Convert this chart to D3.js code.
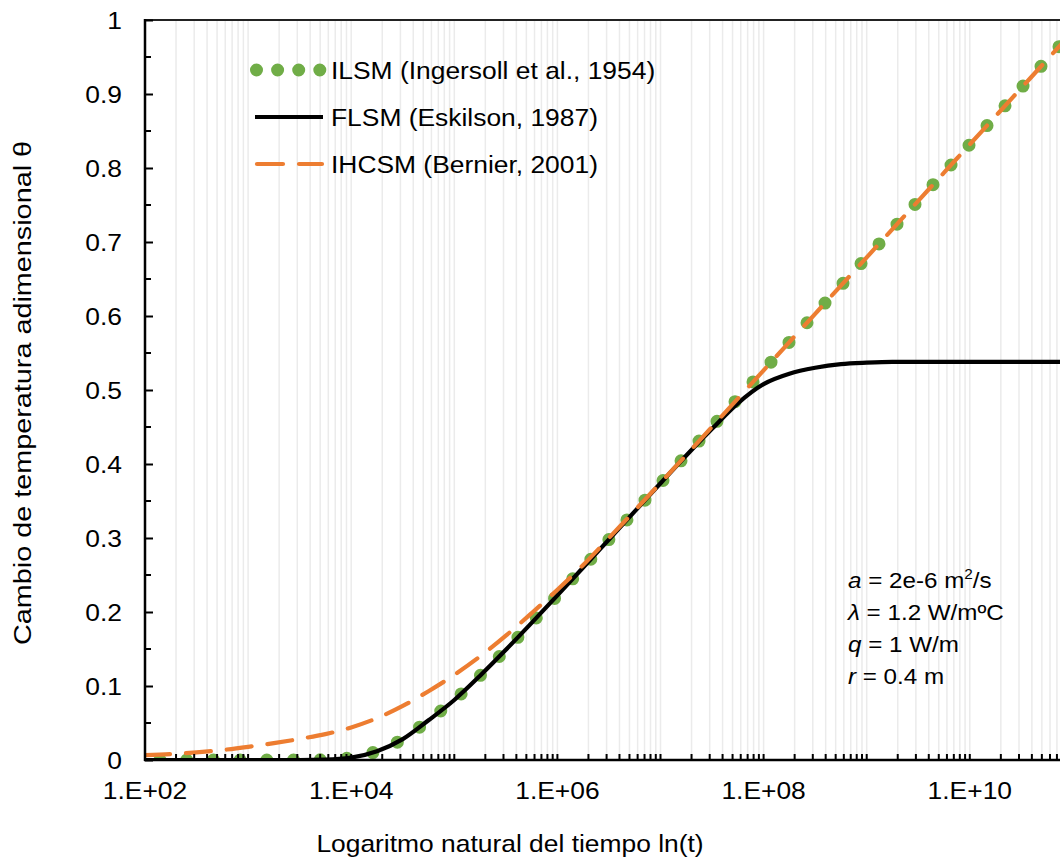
<!DOCTYPE html>
<html>
<head>
<meta charset="utf-8">
<script src="https://cdn.jsdelivr.net/npm/d3@7"></script>
<style>
  body { margin: 0; background: #fff; }
  svg { font-family: "Liberation Sans", Arial, sans-serif; display: block; }
</style>
</head>
<body>
<div id="chart"></div>
<script>
// data (log10 of time, theta values)
const logTime = [2.00, 2.25, 2.50, 2.75, 3.00, 3.25, 3.50, 3.75, 4.00, 4.25, 4.50, 4.75,
                 5.00, 5.25, 5.50, 5.75, 6.00, 6.25, 6.50, 6.75, 7.00, 7.25, 7.50, 7.75,
                 8.00, 8.25, 8.50, 8.75, 9.00, 9.25, 9.50, 9.75, 10.00, 10.25, 10.50, 10.75, 11.00];

const ilsm = [0, 0, 0, 0, 0, 0, 0, 0.0004, 0.0032, 0.0119, 0.0282, 0.0537,
              0.0811, 0.1139, 0.1489, 0.1853, 0.2225, 0.2601, 0.2980, 0.3359, 0.3740, 0.4121, 0.4503, 0.4884,
              0.5266, 0.5648, 0.6029, 0.6411, 0.6792, 0.7174, 0.7556, 0.7937, 0.8319, 0.8700, 0.9082, 0.9464, 0.9845];

const flsm = [0, 0, 0, 0, 0, 0, 0, 0.0004, 0.0032, 0.0119, 0.0282, 0.0537,
              0.0811, 0.1139, 0.1489, 0.1853, 0.2225, 0.2601, 0.2980, 0.3359, 0.3740, 0.4115, 0.4475, 0.4820,
              0.5080, 0.5220, 0.5300, 0.5350, 0.5370, 0.5380, 0.5380, 0.5380, 0.5380, 0.5380, 0.5380, 0.5380, 0.5380];

const ihcsm = [0.0065, 0.0080, 0.0103, 0.0135, 0.0178, 0.0228, 0.0285, 0.0350, 0.0440, 0.0565, 0.0730, 0.0930,
               0.1150, 0.1400, 0.1680, 0.1985, 0.2300, 0.2635, 0.3000, 0.3370, 0.3745, 0.4122, 0.4503, 0.4884,
               0.5266, 0.5648, 0.6029, 0.6411, 0.6792, 0.7174, 0.7556, 0.7937, 0.8319, 0.8700, 0.9082, 0.9464, 0.9845];

const seriesNames = ["ILSM (Ingersoll et al., 1954)", "FLSM (Eskilson, 1987)", "IHCSM (Bernier, 2001)"];
const xTickValues = [1e2, 1e4, 1e6, 1e8, 1e10];
const xTickLabels = ["1.E+02", "1.E+04", "1.E+06", "1.E+08", "1.E+10"];
const yTickValues = [0, 0.1, 0.2, 0.3, 0.4, 0.5, 0.6, 0.7, 0.8, 0.9, 1];
const yTickLabels = ["0", "0.1", "0.2", "0.3", "0.4", "0.5", "0.6", "0.7", "0.8", "0.9", "1"];
const paramLines = [
  ["a", " = 2e-6 m", "2", "/s"],
  ["λ", " = 1.2 W/mºC", "", ""],
  ["q", " = 1 W/m", "", ""],
  ["r", " = 0.4 m", "", ""]
];

const W = 1060, H = 862;
const margin = {top: 20, left: 145};
const plotW = 1031, plotH = 740;   // plot runs past the right edge of the window
const SX = 1.1;                     // reference text is a bit wide

const svg = d3.select("#chart").append("svg")
  .attr("width", W).attr("height", H);

const x = d3.scaleLog().domain([1e2, 1e12]).range([margin.left, margin.left + plotW]);
const y = d3.scaleLinear().domain([0, 1]).range([margin.top + plotH, margin.top]);

// text with a small horizontal stretch
function label(g, tx, ty, size, str, anchor) {
  return g.append("text")
    .attr("transform", `translate(${tx},${ty}) scale(${SX},1)`)
    .attr("font-size", size)
    .attr("text-anchor", anchor || "start")
    .text(str);
}

// minor log positions for grid and ticks
let minorVals = [];
for (let e = 2; e < 12; e++) for (let k = 1; k <= 9; k++) minorVals.push(k * Math.pow(10, e));

svg.append("g")
  .selectAll("line")
  .data(minorVals.filter(v => v > 1e2))
  .enter().append("line")
  .attr("x1", d => x(d)).attr("x2", d => x(d))
  .attr("y1", margin.top).attr("y2", margin.top + plotH)
  .attr("stroke", "#ebebeb").attr("stroke-width", 1.5);

svg.append("clipPath").attr("id", "clip")
  .append("rect")
  .attr("x", margin.left).attr("y", margin.top)
  .attr("width", plotW).attr("height", plotH);

const rows = logTime.map((lt, i) => ({t: Math.pow(10, lt), a: ilsm[i], b: flsm[i], c: ihcsm[i]}));

const lineOf = key => d3.line()
  .x(d => x(d.t))
  .y(d => y(d[key]))
  .curve(d3.curveMonotoneX);

const plot = svg.append("g").attr("clip-path", "url(#clip)");

// ILSM: round dots
plot.append("path")
  .datum(rows)
  .attr("d", lineOf("a"))
  .attr("fill", "none")
  .attr("stroke", "#70ad47")
  .attr("stroke-width", 13)
  .attr("stroke-linecap", "round")
  .attr("stroke-dasharray", "0 26.7")
  .attr("stroke-dashoffset", 11.7);

// FLSM: solid black
plot.append("path")
  .datum(rows)
  .attr("d", lineOf("b"))
  .attr("fill", "none")
  .attr("stroke", "#000")
  .attr("stroke-width", 4.2);

// IHCSM: long dash orange
plot.append("path")
  .datum(rows)
  .attr("d", lineOf("c"))
  .attr("fill", "none")
  .attr("stroke", "#ed7d31")
  .attr("stroke-width", 4.2)
  .attr("stroke-linecap", "round")
  .attr("stroke-dasharray", "25 16");

// top border
svg.append("line")
  .attr("x1", margin.left).attr("x2", margin.left + plotW)
  .attr("y1", margin.top).attr("y2", margin.top)
  .attr("stroke", "#222").attr("stroke-width", 2);

// x axis minor ticks (pointing up)
svg.append("g")
  .selectAll("line")
  .data(minorVals)
  .enter().append("line")
  .attr("x1", d => x(d)).attr("x2", d => x(d))
  .attr("y1", margin.top + plotH).attr("y2", margin.top + plotH - 6)
  .attr("stroke", "#000").attr("stroke-width", 2);

svg.append("line")
  .attr("x1", margin.left - 1).attr("x2", margin.left + plotW)
  .attr("y1", margin.top + plotH).attr("y2", margin.top + plotH)
  .attr("stroke", "#000").attr("stroke-width", 2.5);

const xl = svg.append("g");
xTickValues.forEach((v, i) => label(xl, x(v), margin.top + plotH + 39, 24, xTickLabels[i], "middle"));

// y axis, ticks inward
const yAxis = d3.axisRight(y).tickValues(yTickValues).tickSize(8).tickFormat("");
svg.append("g")
  .attr("transform", `translate(${margin.left},0)`)
  .call(yAxis)
  .call(g => g.select(".domain").remove())
  .call(g => g.selectAll("line").attr("stroke-width", 2));

svg.append("g")
  .selectAll("line")
  .data(d3.range(0.05, 1, 0.1))
  .enter().append("line")
  .attr("x1", margin.left).attr("x2", margin.left + 6)
  .attr("y1", d => y(d)).attr("y2", d => y(d))
  .attr("stroke", "#000").attr("stroke-width", 2);

svg.append("line")
  .attr("x1", margin.left).attr("x2", margin.left)
  .attr("y1", margin.top - 1).attr("y2", margin.top + plotH + 1)
  .attr("stroke", "#000").attr("stroke-width", 2.5);

const yl = svg.append("g");
yTickValues.forEach((v, i) => label(yl, 122, y(v) + 8.5, 24, yTickLabels[i], "end"));

// axis titles
label(svg, 510, 852, 24, "Logaritmo natural del tiempo ln(t)", "middle");

svg.append("text")
  .attr("transform", "translate(31,393) rotate(-90) scale(1.2,1)")
  .attr("text-anchor", "middle")
  .attr("font-size", 24)
  .text("Cambio de temperatura adimensional θ");

// legend
const leg = svg.append("g");
const legY = [70, 117, 164];
leg.append("line")
  .attr("x1", 256.5).attr("x2", 320).attr("y1", legY[0]).attr("y2", legY[0])
  .attr("stroke", "#70ad47").attr("stroke-width", 13)
  .attr("stroke-linecap", "round").attr("stroke-dasharray", "0 21.1");
leg.append("line")
  .attr("x1", 255).attr("x2", 323).attr("y1", legY[1]).attr("y2", legY[1])
  .attr("stroke", "#000").attr("stroke-width", 4.2);
leg.append("line")
  .attr("x1", 257).attr("x2", 322).attr("y1", legY[2]).attr("y2", legY[2])
  .attr("stroke", "#ed7d31").attr("stroke-width", 4.2)
  .attr("stroke-linecap", "round").attr("stroke-dasharray", "26 16");
seriesNames.forEach((s, i) => label(leg, 331, legY[i] + 8.5, 24, s));

// parameter note
const note = svg.append("g");
paramLines.forEach((p, i) => {
  const t = note.append("text")
    .attr("transform", `translate(848,${588 + i * 32}) scale(${SX},1)`)
    .attr("font-size", 22);
  t.append("tspan").attr("font-style", "italic").text(p[0]);
  t.append("tspan").text(p[1]);
  if (p[2]) t.append("tspan").attr("font-size", 14).attr("dy", -9).text(p[2]);
  if (p[3]) t.append("tspan").attr("dy", 9).text(p[3]);
});
</script>
</body>
</html>
